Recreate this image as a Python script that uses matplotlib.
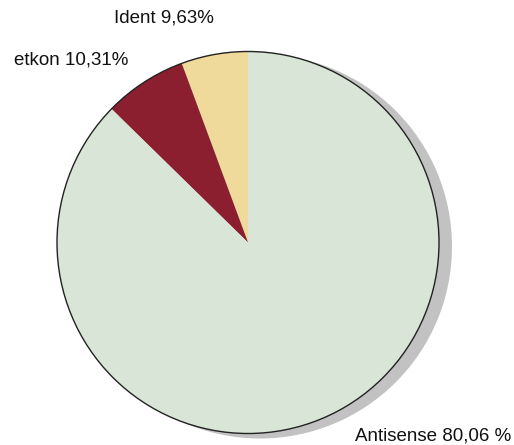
import matplotlib
matplotlib.use("Agg")
import matplotlib.pyplot as plt
from matplotlib.patches import Circle

# slices as drawn (counter-clockwise from 12 o'clock)
labels = ["Ident 9,63%", "etkon 10,31%", "Antisense 80,06 %"]
sizes = [5.64, 7.03, 87.33]
colors = ["#efd99b", "#8b1f2f", "#d9e6d7"]

W, H = 514, 445
fig = plt.figure(figsize=(W / 100, H / 100), dpi=100)
ax = fig.add_axes([0, 0, 1, 1])

cx, cy, r = 248, H - 242.5, 191

# shadow
ax.add_patch(Circle((cx + 12, cy - 4), r + 1, facecolor="#c2c2c2", edgecolor="none", zorder=0))

ax.pie(sizes, colors=colors, startangle=90, counterclock=True,
       center=(cx, cy), radius=r, frame=True,
       wedgeprops=dict(linewidth=0, antialiased=True))
ax.set_xlim(0, W)
ax.set_ylim(0, H)
ax.set_aspect("equal")
ax.axis("off")

ax.add_patch(Circle((cx, cy), r, facecolor="none", edgecolor="#222222", linewidth=1.0, zorder=5))

font = dict(family=["Liberation Sans", "DejaVu Sans"], fontsize=13.5, color="#111111")
ax.text(164, H - 18, labels[0], ha="center", va="center", **font)
ax.text(14, H - 60, labels[1], ha="left", va="center", **font)
ax.text(355, H - 436, labels[2], ha="left", va="center", **font)

fig.savefig("out.png", dpi=100)
